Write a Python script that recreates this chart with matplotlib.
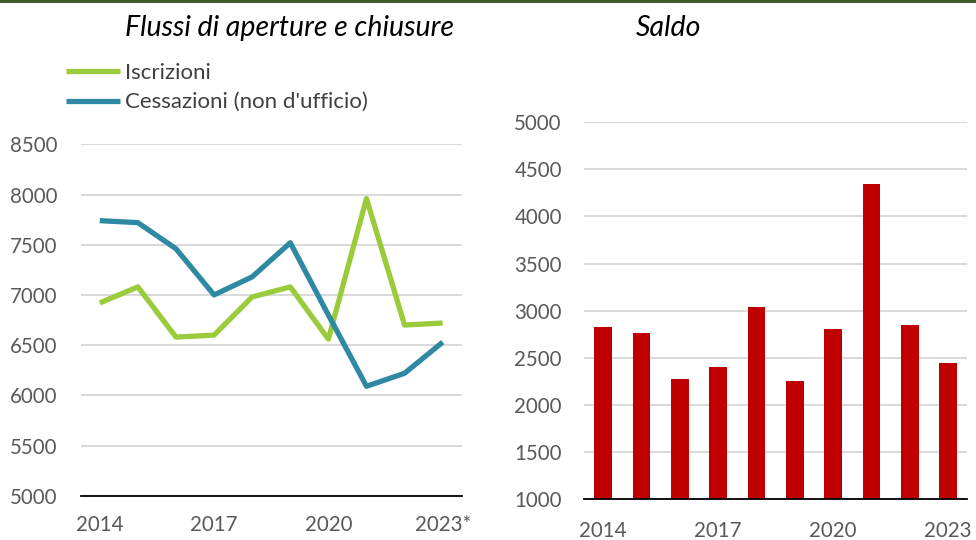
import numpy as np
import matplotlib
matplotlib.use("Agg")
import matplotlib.pyplot as plt
from matplotlib.lines import Line2D

plt.rcParams['font.family'] = ['Lato', 'DejaVu Sans']

years = ['2014', '2015', '2016', '2017', '2018', '2019', '2020', '2021', '2022', '2023*']
iscrizioni = [6920, 7080, 6580, 6600, 6980, 7080, 6560, 7960, 6700, 6720]
cessazioni = [7740, 7720, 7460, 7000, 7180, 7520, 6800, 6090, 6220, 6530]
saldo_years = ['2014', '2015', '2016', '2017', '2018', '2019', '2020', '2021', '2022', '2023']
saldo = [2830, 2760, 2275, 2400, 3040, 2255, 2800, 4350, 2845, 2445]

green = '#9acb3a'
blue = '#2f89a3'
red = '#c00000'
grid_c = '#d9d9d9'
text_c = '#595959'

fig = plt.figure(figsize=(9.76, 5.4), dpi=100)

# dark green band on top
fig.add_artist(Line2D([0, 1], [0.998, 0.998], color='#3d5c28', lw=2.2, transform=fig.transFigure))

# ---- left: flows
ax1 = fig.add_axes([0.0827, 0.0820, 0.3904, 0.6507])
x = np.arange(len(years))
ax1.plot(x, iscrizioni, color=green, lw=3.8, solid_capstyle='butt', label='Iscrizioni')
ax1.plot(x, cessazioni, color=blue, lw=3.8, solid_capstyle='butt', label="Cessazioni (non d'ufficio)")
ax1.set_xlim(-0.5, len(years) - 0.5)
ax1.set_ylim(5000, 8500)
ax1.set_yticks(np.arange(5000, 8501, 500))
ax1.set_xticks(x[::3])
ax1.set_xticklabels(years[::3])

# ---- right: saldo
ax2 = fig.add_axes([0.5984, 0.0759, 0.3927, 0.6976])
xs = np.arange(len(saldo_years))
ax2.bar(xs, saldo, width=0.46, color=red, zorder=2)
ax2.set_xlim(-0.5, len(saldo_years) - 0.5)
ax2.set_ylim(1000, 5000)
ax2.set_yticks(np.arange(1000, 5001, 500))
ax2.set_xticks(xs[::3])
ax2.set_xticklabels(saldo_years[::3])

for ax, ypad, xpad in [(ax1, 17, 14), (ax2, 16, 16)]:
    for s in ['top', 'right', 'left']:
        ax.spines[s].set_visible(False)
    ax.spines['bottom'].set_color('black')
    ax.spines['bottom'].set_linewidth(1.3)
    ax.spines['bottom'].set_zorder(3)
    ax.grid(axis='y', color=grid_c, lw=1.4, zorder=0)
    ax.set_axisbelow(True)
    ax.tick_params(axis='y', length=0, pad=ypad, labelsize=14.8, labelcolor=text_c)
    ax.tick_params(axis='x', length=0, pad=xpad, labelsize=14.8, labelcolor=text_c)

fig.text(125 / 976, 1 - 28 / 540, 'Flussi di aperture e chiusure', fontsize=20.5,
         style='italic', ha='left', va='center', color='black')
fig.text(636 / 976, 1 - 28 / 540, 'Saldo', fontsize=20.5, style='italic',
         ha='left', va='center', color='black')

fig.legend(handles=ax1.get_lines(), loc='upper left', bbox_to_anchor=(66 / 976, 1 - 63 / 540),
           frameon=False, fontsize=16, handlelength=2.45, handletextpad=0.22,
           labelspacing=0.42, borderpad=0, borderaxespad=0, labelcolor='#404040')

fig.savefig('out.png', dpi=100)
